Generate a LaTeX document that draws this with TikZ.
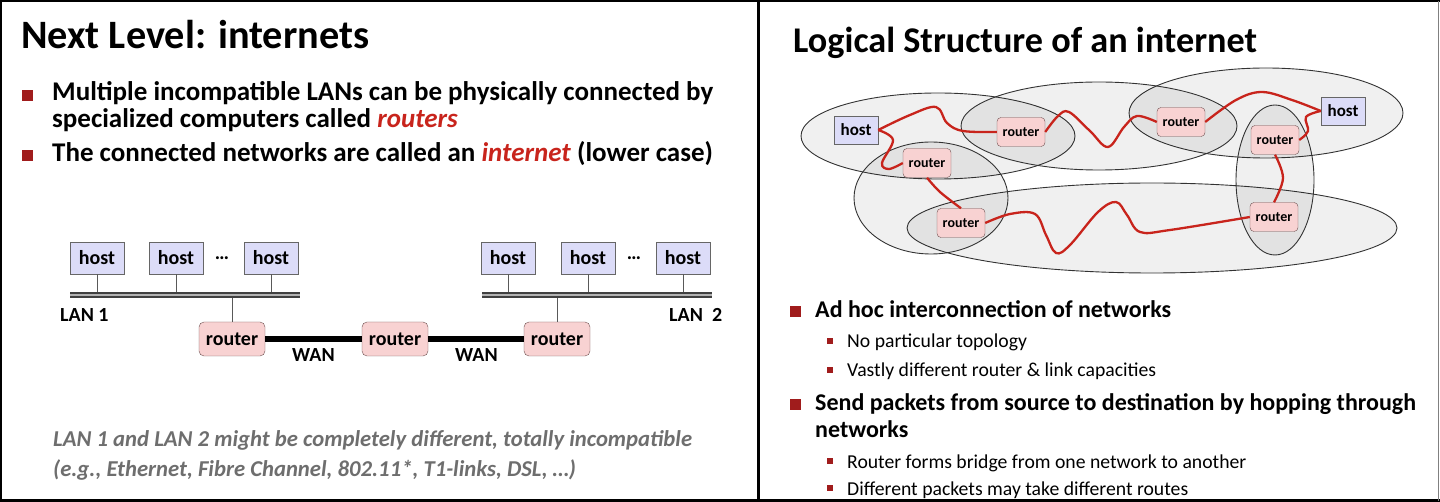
\documentclass[tikz,border=0pt]{standalone}
\usepackage{fontspec}
\setmainfont{Carlito}
\usetikzlibrary{positioning, calc}
\definecolor{hostblue}{HTML}{DCDCF8}
\definecolor{routerpink}{HTML}{F8D2D2}
\definecolor{routerline}{HTML}{6E5050}
\definecolor{bulletred}{HTML}{A01C1C}
\definecolor{wordred}{HTML}{C8241C}
\definecolor{notegray}{HTML}{6E6E6E}
\newcommand{\stub}[2]
{
	\draw[stubline] (#1) -- (#1 |- #2)
}
\newcommand{\hilite}[1]{\textcolor{wordred}{\textit{#1}}}
\newcommand{\ttlL}{\fontsize{40.3}{42}\selectfont\bfseries}
\newcommand{\ttlR}{\fontsize{36.2}{38}\selectfont\bfseries}
\newcommand{\bulL}{\fontsize{27}{28}\selectfont\bfseries}
\newcommand{\bulR}{\fontsize{24}{27}\selectfont\bfseries}
\newcommand{\subR}{\fontsize{19.7}{22}\selectfont}
\newcommand{\noteL}{\fontsize{22.7}{24}\selectfont\bfseries\itshape}
\newcommand{\diag}{\fontsize{20}{22}\selectfont\bfseries}
\newcommand{\diagS}{\fontsize{14}{16}\selectfont\bfseries}

\begin{document}
\begin{tikzpicture}[x=1pt, y=-1pt,
	host/.style={draw=black!60, fill=hostblue, minimum width=54pt,
		minimum height=32pt, inner sep=0pt, font=\diag},
	router/.style={draw=routerline, fill=routerpink, rounded corners=5pt,
		minimum width=66pt, minimum height=34pt, inner sep=0pt, font=\diag},
	smallhost/.style={host, minimum width=44pt, minimum height=28pt,
		font=\fontsize{17}{19}\selectfont\bfseries},
	smallrouter/.style={router, rounded corners=4pt, minimum width=48pt,
		minimum height=29pt, font=\diagS},
	txt/.style={inner sep=0pt, anchor=base west},
	bul/.style={fill=bulletred, minimum size=11pt, inner sep=0pt},
	subbul/.style={fill=bulletred, minimum size=6pt, inner sep=0pt},
	net/.style={draw=black!80, fill=black, fill opacity=0.06, line width=0.9pt},
	wire/.style={draw=wordred, line width=2.3pt},
	bus/.style={draw=black!75, line width=1.3pt, double=black!30,
		double distance=2.5pt},
	wan/.style={line width=6pt},
	stubline/.style={draw=black!65, line width=0.9pt}]

	\useasboundingbox (0,0) rectangle (1440,502);

	% left panel: text
	\node[txt, font=\ttlL] at (21,49) (T1){Next Level: internets};
	\node[bul] at (27.5,95.5) (B1){};
	\node[txt, font=\bulL] at (52,101) (B1a){Multiple incompatible LANs can be physically connected by};
	\node[txt, font=\bulL] at (52,128) (B1b){specialized computers called \hilite{routers}};
	\node[bul] at (27.5,156) (B2){};
	\node[txt, font=\bulL] at (52,162) (B2a){The connected networks are called an \hilite{internet} (lower case)};

	% left panel: two LANs and a WAN
	\node[host] at (97,258) (LH1){host};
	\node[host] at (176,258) (LH2){host};
	\node[host] at (271,258) (LH3){host};
	\node[txt, anchor=base, font=\diag] at (222,260) (LD1){…};
	\node[host] at (508,258) (LH4){host};
	\node[host] at (588,258) (LH5){host};
	\node[host] at (683,258) (LH6){host};
	\node[txt, anchor=base, font=\diag] at (634,260) (LD2){…};
	\node[router] at (232,339) (LR1){router};
	\node[router] at (395,339) (LR2){router};
	\node[router] at (557,339) (LR3){router};
	\coordinate (LAN1w) at (70,295);
	\coordinate (LAN1e) at (300,295);
	\coordinate (LAN2w) at (482,295);
	\coordinate (LAN2e) at (712,295);
	\stub{LH1.south}{LAN1w};
	\stub{LH2.south}{LAN1w};
	\stub{LH3.south}{LAN1w};
	\stub{LR1.north}{LAN1w};
	\stub{LH4.south}{LAN2w};
	\stub{LH5.south}{LAN2w};
	\stub{LH6.south}{LAN2w};
	\stub{LR3.north}{LAN2w};
	\draw[bus] (LAN1w) -- (LAN1e);
	\draw[bus] (LAN2w) -- (LAN2e);
	\draw[wan] (LR1.east) -- (LR2.west);
	\draw[wan] (LR2.east) -- (LR3.west);
	\node[txt, font=\diag] at (60,322) (LAN1){LAN 1};
	\node[txt, font=\diag] at (669,322) (LAN2){LAN~~2};
	\node[txt, font=\diag] at (292,362) (WAN1){WAN};
	\node[txt, font=\diag] at (455,362) (WAN2){WAN};

	\node[txt, font=\noteL, text=notegray] at (53,446) (N1){LAN 1 and LAN 2 might be completely different, totally incompatible};
	\node[txt, font=\noteL, text=notegray] at (53,476) (N2){(e.g., Ethernet, Fibre Channel, 802.11*, T1-links, DSL, …)};

	% right panel: networks
	\draw[net] (1152,228) ellipse [x radius=245pt, y radius=45pt];
	\draw[net] (938,136) ellipse [x radius=137pt, y radius=43pt];
	\draw[net] (1266,113) ellipse [x radius=137pt, y radius=45pt];
	\draw[net] (1275,180) ellipse [x radius=39pt, y radius=75pt];
	\draw[net] (931,198) ellipse [x radius=77pt, y radius=56pt];
	\draw[net] (1099,126) ellipse [x radius=138pt, y radius=44pt];

	\node[smallhost] at (856,130) (RHL){host};
	\node[smallhost] at (1343,111) (RHR){host};
	\node[smallrouter] at (927,163) (RRA){router};
	\node[smallrouter] at (1021,132) (RRB){router};
	\node[smallrouter] at (1181,122) (RRC){router};
	\node[smallrouter] at (1275,140) (RRD){router};
	\node[smallrouter] at (961,223) (RRE){router};
	\node[smallrouter] at (1274,217) (RRF){router};

	\draw[wire] plot[smooth, tension=0.6] coordinates {(RHL.east) (910,115) (936,107) (947,123) (963,131) (RRB.west)};
	\draw[wire] plot[smooth, tension=0.6] coordinates {(RHL.east) (893,140) (882,163) (889,169) (RRA.west)};
	\draw[wire] plot[smooth, tension=0.6] coordinates {(RRB.east) (1058,116) (1069,112) (1090,131) (1108,147) (1124,127) (1137,116) (RRC.west)};
	\draw[wire] plot[smooth, tension=0.6] coordinates {(RRC.east) (1236,100) (1262,92) (1292,100) (RHR.west)};
	\draw[wire] plot[smooth, tension=0.6] coordinates {(RHR.west) (1306,117) (1308,131) (RRD.east)};
	\draw[wire] plot[smooth, tension=0.6] coordinates {(RRD.south) (1283,178) (RRF.north)};
	\draw[wire] plot[smooth, tension=0.6] coordinates {(RRA.south) (940,192) (RRE.north)};
	\draw[wire] plot[smooth, tension=0.6] coordinates {(RRE.east) (1010,214) (1035,214) (1046,235) (1056,253) (1070,245) (1098,212) (1116,202) (1127,215) (1140,232) (1170,230) (RRF.west)};

	% right panel: text
	\node[txt, font=\ttlR] at (793,53) (T2){Logical Structure of an internet};
	\node[bul] at (795,312) (B3){};
	\node[txt, font=\bulR] at (815,318) (B3a){Ad hoc interconnection of networks};
	\node[subbul] at (830,341) (S1){};
	\node[txt, font=\subR] at (847,348) (S1a){No particular topology};
	\node[subbul] at (830,370) (S2){};
	\node[txt, font=\subR] at (847,377) (S2a){Vastly different router \& link capacities};
	\node[bul] at (795,404) (B4){};
	\node[txt, font=\bulR] at (815,410) (B4a){Send packets from source to destination by hopping through};
	\node[txt, font=\bulR] at (815,437) (B4b){networks};
	\node[subbul] at (830,461) (S3){};
	\node[txt, font=\subR] at (847,468) (S3a){Router forms bridge from one network to another};
	\node[subbul] at (830,488) (S4){};
	\node[txt, font=\subR] at (847,495) (S4a){Different packets may take different routes};

	% frame
	\draw[line width=2.5pt] (1440,1) -- (1,1) -- (1,500.5) -- (1440,500.5);
	\draw[black!50, line width=1pt] (1438.5,1) -- (1438.5,500.5);
	\draw[line width=3pt] (758,0) -- (758,502);
\end{tikzpicture}
\end{document}
